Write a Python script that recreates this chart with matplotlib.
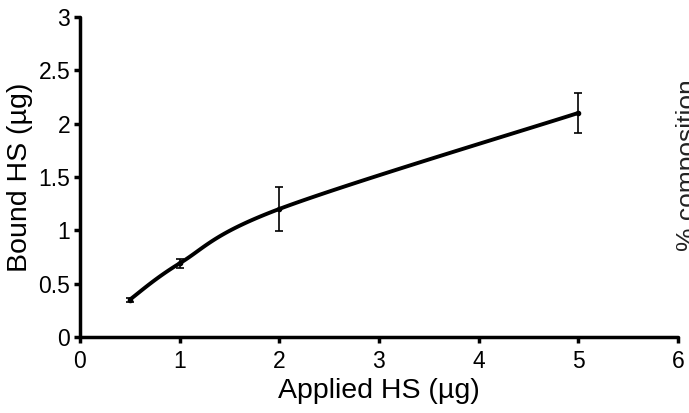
import numpy as np
import matplotlib

matplotlib.use('Agg')
import matplotlib.pyplot as plt

plt.rcParams['font.family'] = ['Liberation Sans', 'DejaVu Sans']

applied = [0.5, 1, 2, 5]
bound = [0.35, 0.69, 1.2, 2.1]
err = [0.02, 0.04, 0.21, 0.19]
x_ticks = [0, 1, 2, 3, 4, 5, 6]
y_ticks = [0, 0.5, 1, 1.5, 2, 2.5, 3]
y_labels = ['0', '0.5', '1', '1.5', '2', '2.5', '3']


def smooth(xs, ys, n=40):
    # excel-like smoothed line (catmull-rom through the points)
    p = np.column_stack([xs, ys]).astype(float)
    p = np.vstack([p[0], p, p[-1]])
    out = []
    t = np.linspace(0, 1, n)[:, None]
    for i in range(1, len(p) - 2):
        p0, p1, p2, p3 = p[i - 1], p[i], p[i + 1], p[i + 2]
        seg = 0.5 * ((2 * p1) + (-p0 + p2) * t + (2 * p0 - 5 * p1 + 4 * p2 - p3) * t ** 2
                     + (-p0 + 3 * p1 - 3 * p2 + p3) * t ** 3)
        out.append(seg)
    out = np.vstack(out)
    return out[:, 0], out[:, 1]


fig = plt.figure(figsize=(6.89, 4.13), dpi=100)
ax = fig.add_axes([0.116, 0.184, 0.868, 0.775])

sx, sy = smooth(applied, bound)
ax.plot(sx, sy, color='black', lw=2.8, solid_capstyle='round')
ax.errorbar(applied, bound, yerr=err, fmt='o', color='black', ms=3,
            elinewidth=1.2, capsize=3, capthick=1.2)

ax.set_xlim(0, 6)
ax.set_ylim(0, 3)
ax.set_xticks(x_ticks)
ax.set_yticks(y_ticks)
ax.set_yticklabels(y_labels)
ax.tick_params(direction='out', length=4, width=2.5, labelsize=16.5, pad=3)
ax.tick_params(axis='x', pad=5)
for s in ['top', 'right']:
    ax.spines[s].set_visible(False)
for s in ['left', 'bottom']:
    ax.spines[s].set_linewidth(2.5)
    ax.spines[s].set_capstyle('round')

ax.set_xlabel('Applied HS (µg)', fontsize=20.5, labelpad=4)
ax.set_ylabel('Bound HS (µg)', fontsize=20.5, labelpad=4)

fig.text(676 / 689, 0.60, '% composition', rotation=90, fontsize=19,
         ha='left', va='center', color='#222222')

fig.savefig('out.png', dpi=100)
